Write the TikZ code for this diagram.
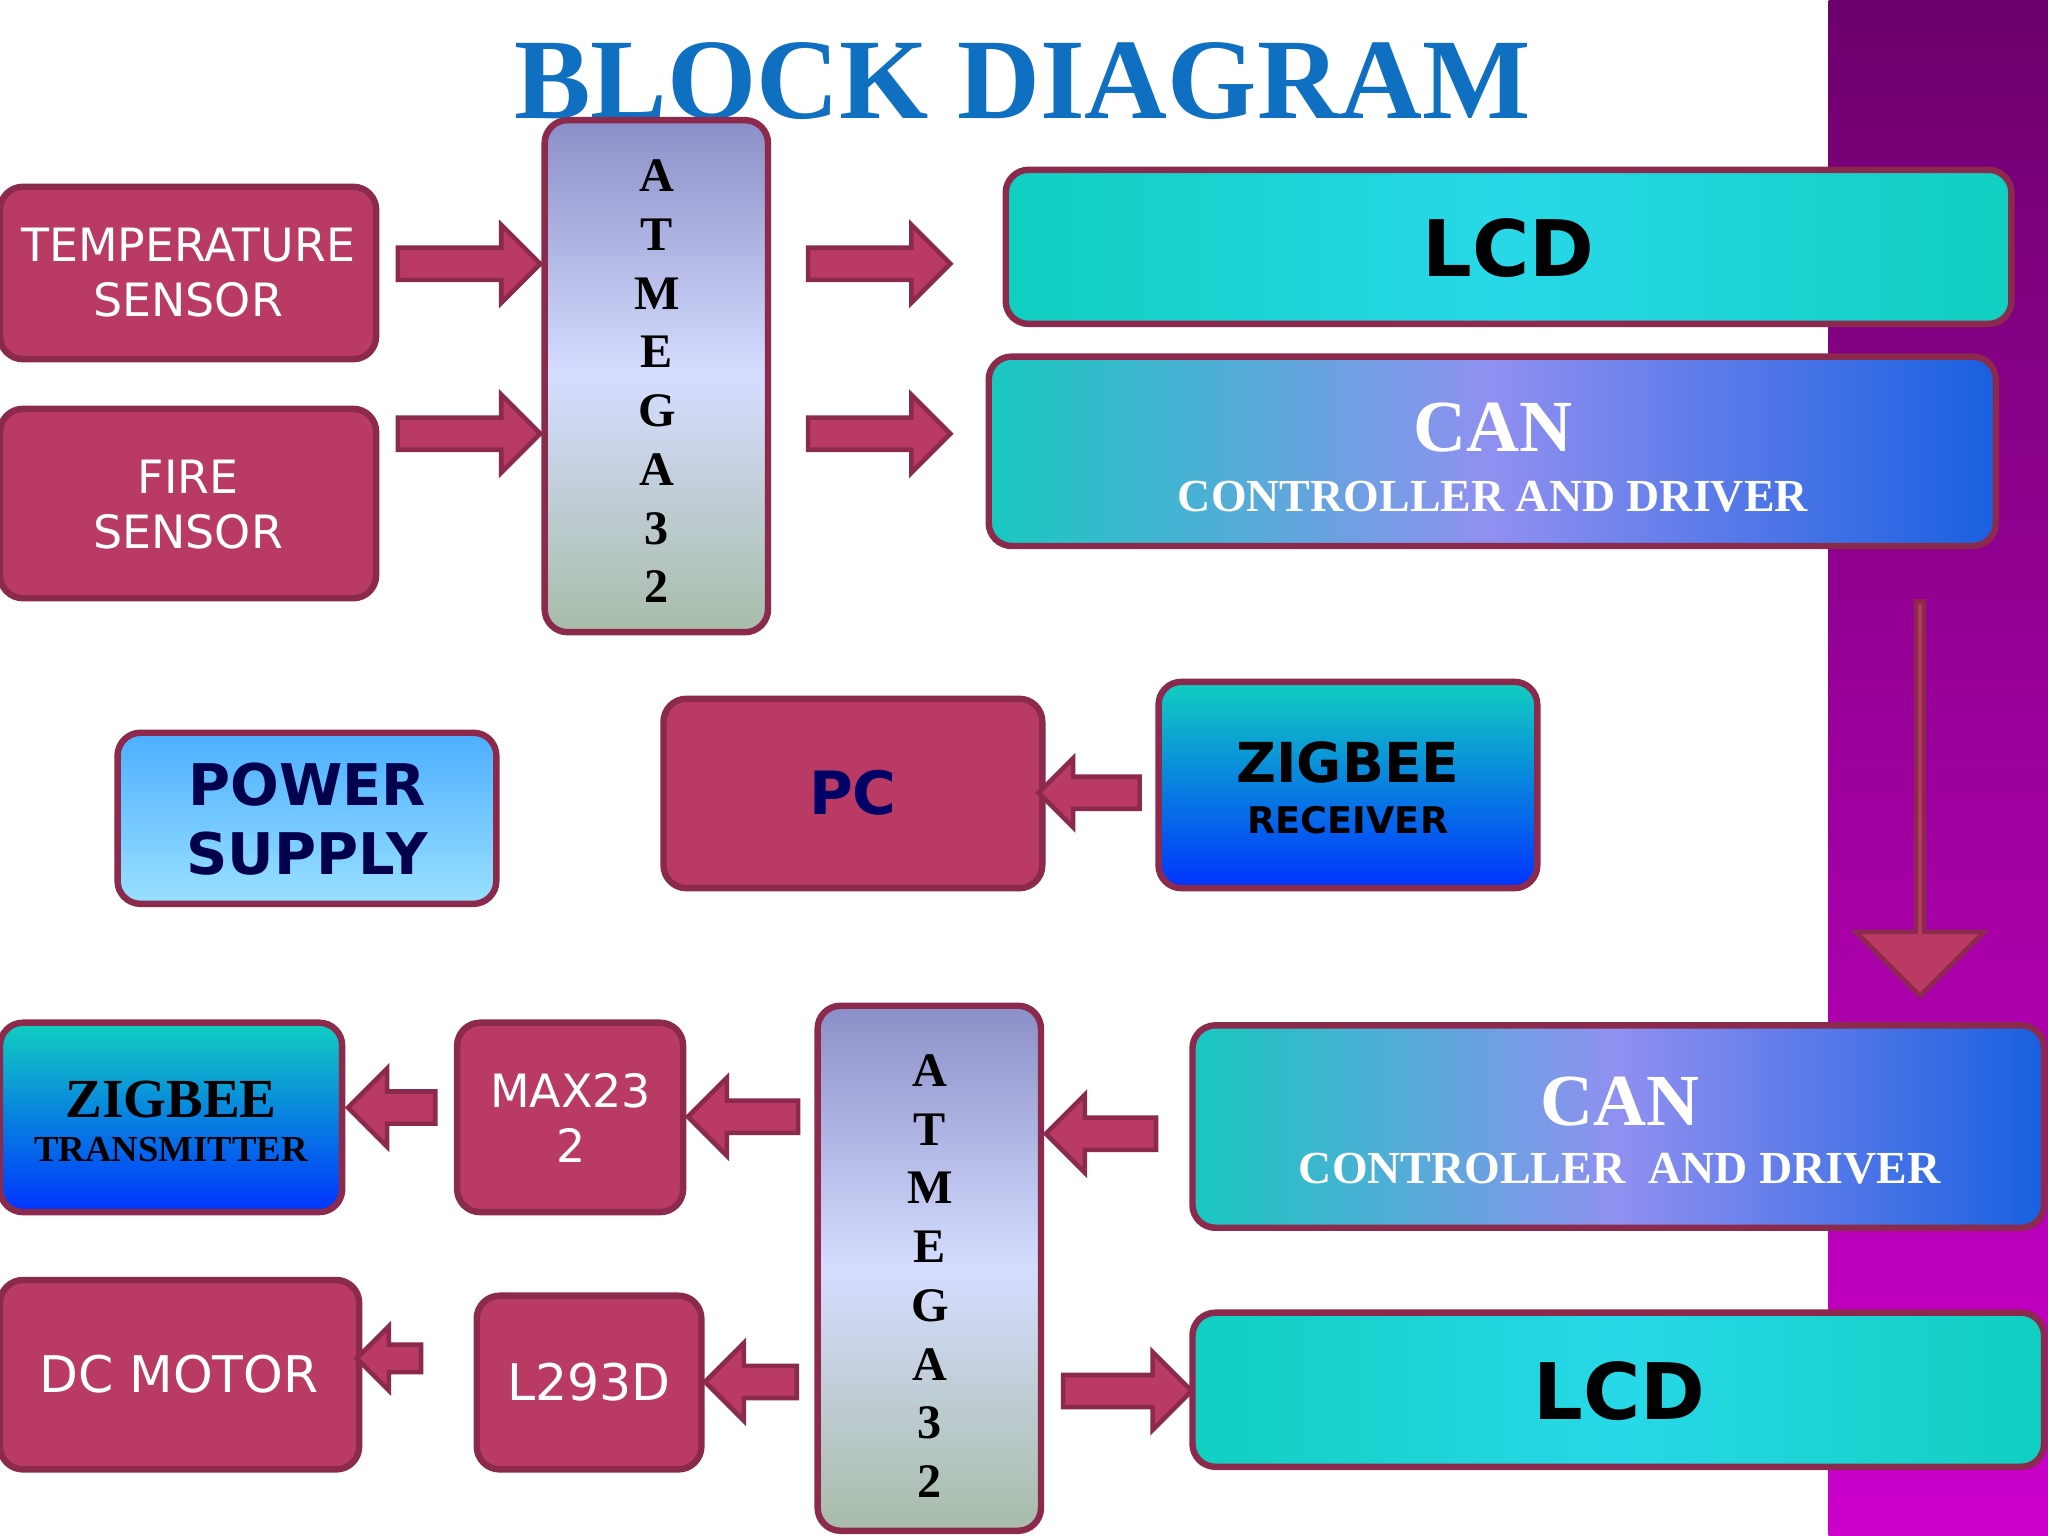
\documentclass[tikz,border=0pt]{standalone}
\usepackage{fontspec}
\setmainfont{Liberation Serif}
\newfontfamily\sansf{DejaVu Sans}
\usetikzlibrary{shapes.arrows,calc}
\definecolor{rose}{HTML}{B93B64}
\definecolor{roseedge}{HTML}{8B2A4C}
\definecolor{titleblue}{HTML}{0F6FC0}
\begin{document}
\begin{tikzpicture}[x=0.1mm,y=-0.1mm,
  blk/.style={draw=roseedge,line width=1.4pt,rounded corners=5pt},
  redblk/.style={blk,fill=rose},
  arr/.style={single arrow,draw=roseedge,fill=rose,line width=1pt,minimum height=#1,
    single arrow head extend=5pt,minimum width=16pt,inner xsep=0pt,inner ysep=3pt},
  cpu/.style={blk,top color=cpuA,bottom color=cpuB,middle color=cpuM},
  cpufont/.style={font=\bfseries\fontsize{10.5}{12.8}\selectfont,align=center},
  wtxt/.style={text=white,font=\sansf\fontsize{10}{12}\selectfont,align=center},
  cyanblk/.style={blk,left color=cyanA,right color=cyanA,middle color=cyanB},
  canblk/.style={blk,left color=canA,right color=canC,middle color=canB},
]
\definecolor{cpuA}{HTML}{8B8FC8}\definecolor{cpuM}{HTML}{D5DDFF}\definecolor{cpuB}{HTML}{A8BCA8}
\definecolor{cyanA}{HTML}{10CFC0}\definecolor{cyanB}{HTML}{28D8E8}
\definecolor{canA}{HTML}{18C8C0}\definecolor{canB}{HTML}{9090F0}\definecolor{canC}{HTML}{1860E0}
\useasboundingbox (0,0) rectangle (1568,1176);
\fill[white] (0,0) rectangle (1568,1176);
\shade[top color=black!60!magenta!70!violet,bottom color=magenta!60!violet] (1400,0) rectangle (1568,1176);
\node[font=\bfseries\fontsize{25}{25}\selectfont,text=titleblue] (title) at (783,62) {BLOCK DIAGRAM};
% top half
\draw[redblk] (0,143) rectangle (288,275);
\node[wtxt] (temp) at (144,209) {TEMPERATURE\\SENSOR};
\draw[redblk] (0,313) rectangle (288,458);
\node[wtxt] (fire) at (144,386) {FIRE\\SENSOR};
\draw[cpu] (417,92) rectangle (588,484);
\node[cpufont] (cpu1) at (503,292) {A\\T\\M\\E\\G\\A\\3\\2};
\node[arr=31pt] (a1) at (353,202) {};
\node[arr=31pt] (a2) at (353,332) {};
\node[arr=31pt] (a3) at (667,202) {};
\node[arr=31pt] (a4) at (667,332) {};
\draw[cyanblk] (770,130) rectangle (1540,248);
\node[font=\sansf\bfseries\fontsize{17}{17}\selectfont] (lcd1) at (1155,190) {LCD};
\draw[canblk] (757,273) rectangle (1528,418);
\node[text=white,font=\bfseries\fontsize{16}{16}\selectfont] (can1) at (1143,327) {CAN};
\node[text=white,font=\bfseries\fontsize{10}{10}\selectfont] (can1b) at (1143,380) {CONTROLLER AND DRIVER};
\node[arr=86pt,shape border rotate=270,minimum width=28pt,single arrow head extend=7.75pt,inner ysep=6.25pt] (down) at (1470,610) {};
% middle
\draw[blk,top color=blue!45!cyan!70,bottom color=blue!30!cyan!40] (90,561) rectangle (380,692);
\node[text=blue!30!black,font=\sansf\bfseries\fontsize{12.5}{15}\selectfont,align=center] (ps) at (235,627) {POWER\\SUPPLY};
\draw[redblk] (508,535) rectangle (798,680);
\node[text=blue!40!black,font=\sansf\bfseries\fontsize{13}{13}\selectfont] (pc) at (653,607) {PC};
\draw[blk,top color=cyanA,bottom color=blue!80!cyan] (887,522) rectangle (1177,680);
\node[font=\sansf\bfseries\fontsize{12}{12}\selectfont] (zr) at (1032,584) {ZIGBEE};
\node[font=\sansf\bfseries\fontsize{8}{9}\selectfont] (zr2) at (1032,628) {RECEIVER};
\node[arr=22pt,shape border rotate=180,minimum width=14pt,single arrow head extend=4pt,inner ysep=3pt] (a5) at (840,607) {};
% bottom half
\draw[blk,top color=cyanA,bottom color=blue!80!cyan] (0,783) rectangle (262,928);
\node[font=\bfseries\fontsize{12}{12}\selectfont] (zt) at (131,842) {ZIGBEE};
\node[font=\bfseries\fontsize{8}{9}\selectfont] (zt2) at (131,880) {TRANSMITTER};
\draw[redblk] (350,783) rectangle (523,928);
\node[wtxt] (max) at (437,856) {MAX23\\2};
\draw[cpu] (626,770) rectangle (797,1172);
\node[cpufont] (cpu2) at (712,977) {A\\T\\M\\E\\G\\A\\3\\2};
\draw[canblk] (913,785) rectangle (1565,940);
\node[text=white,font=\bfseries\fontsize{16}{16}\selectfont] (can2) at (1240,843) {CAN};
\node[text=white,font=\bfseries\fontsize{10}{10}\selectfont] (can2b) at (1240,895) {CONTROLLER\ \ AND DRIVER};
\draw[cyanblk] (913,1005) rectangle (1565,1123);
\node[font=\sansf\bfseries\fontsize{17}{17}\selectfont] (lcd2) at (1240,1065) {LCD};
\draw[redblk] (0,980) rectangle (275,1125);
\node[wtxt,font=\sansf\fontsize{11}{12}\selectfont] (dc) at (137,1052) {DC MOTOR};
\draw[redblk] (365,992) rectangle (537,1125);
\node[wtxt,font=\sansf\fontsize{11}{12}\selectfont] (l293) at (451,1058) {L293D};
\node[arr=19pt,shape border rotate=180] (b1) at (306,848) {};
\node[arr=24pt,shape border rotate=180] (b2) at (575,855) {};
\node[arr=24pt,shape border rotate=180] (b3) at (849,868) {};
\node[arr=28pt] (b4) at (857,1065) {};
\node[arr=20pt,shape border rotate=180] (b5) at (581,1058) {};
\node[arr=14pt,shape border rotate=180,minimum width=13pt,single arrow head extend=4pt,inner ysep=2.5pt] (b6) at (303,1040) {};
\end{tikzpicture}
\end{document}
